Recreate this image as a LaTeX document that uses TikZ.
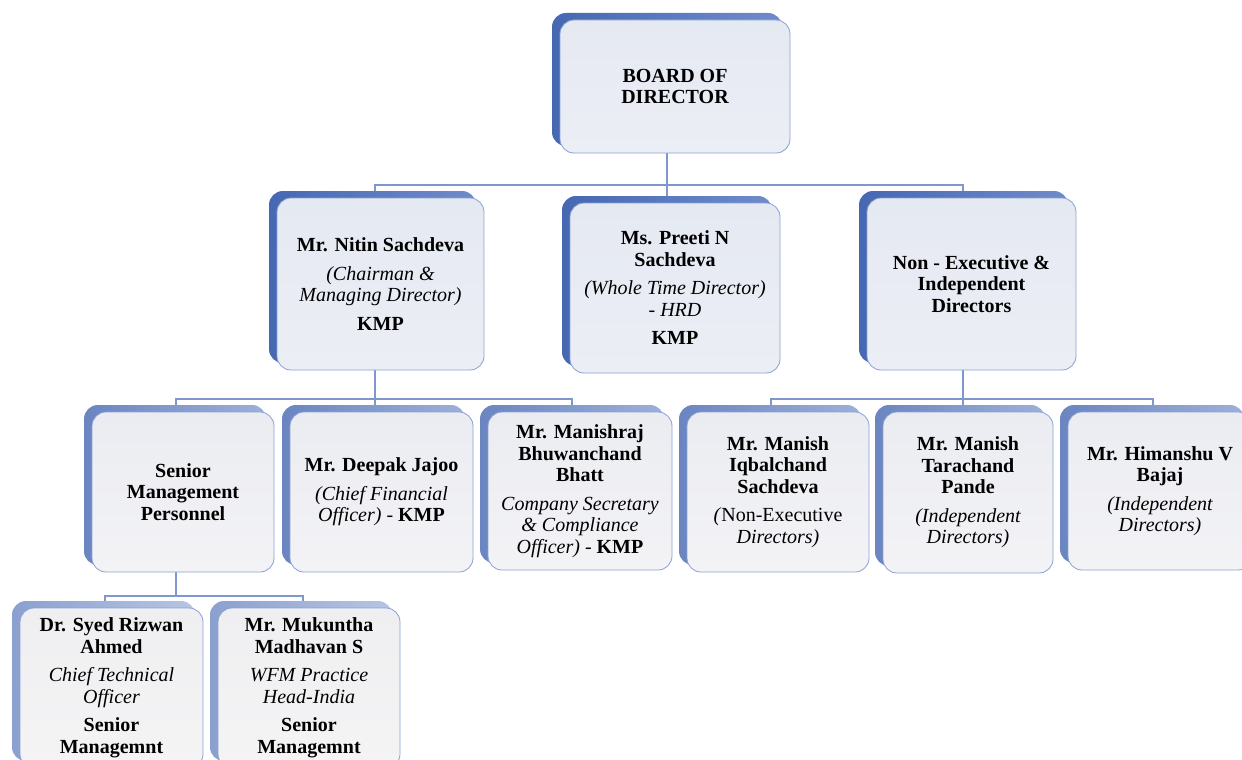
\documentclass[tikz,border=0pt]{standalone}
\usepackage{fontspec}
\setmainfont{Liberation Serif}
\usetikzlibrary{shadows,backgrounds}
\definecolor{edgeblue}{HTML}{8AA0D4}
\definecolor{lineblue}{HTML}{7F97CC}
\definecolor{hitop}{HTML}{E5E9F2}
\definecolor{hibot}{HTML}{ECEEF5}
\definecolor{midtop}{HTML}{EBECF1}
\definecolor{midbot}{HTML}{F3F3F6}
\definecolor{lotop}{HTML}{EFEFF1}
\definecolor{lobot}{HTML}{F4F4F5}
\definecolor{backdarkA}{HTML}{4668B2}
\definecolor{backlightA}{HTML}{6F8BCB}
\definecolor{backdarkB}{HTML}{6A85C0}
\definecolor{backlightB}{HTML}{9DB0DA}
\definecolor{backdarkC}{HTML}{8CA0CF}
\definecolor{backlightC}{HTML}{B7C5E3}
\pgfdeclarelayer{bgzero}
\pgfsetlayers{bgzero,background,main}
\tikzset{
  basebox/.style={draw=edgeblue, line width=0.8pt, rounded corners=14pt,
    inner sep=0pt, align=center, font=\rmfamily\fontsize{20}{21.5}\selectfont},
  hibox/.style={basebox, top color=hitop, bottom color=hibot,
    general shadow={shadow xshift=-8pt, shadow yshift=7pt, draw=none,
      left color=backdarkA, right color=backlightA}},
  midbox/.style={basebox, top color=midtop, bottom color=midbot,
    general shadow={shadow xshift=-8pt, shadow yshift=7pt, draw=none,
      left color=backdarkB, right color=backlightB}},
  lobox/.style={basebox, top color=lotop, bottom color=lobot,
    general shadow={shadow xshift=-8pt, shadow yshift=7pt, draw=none,
      left color=backdarkC, right color=backlightC}},
  conn/.style={draw=lineblue, line width=1.4pt},
}
\newcommand{\gp}{\\[7pt]}
\begin{document}
\begin{tikzpicture}[x=1pt,y=-1pt]
\begin{pgfonlayer}{bgzero}
\fill[white] (0,0) rectangle (1242,760);
\end{pgfonlayer}
\useasboundingbox (0,0) rectangle (1242,760);
\clip (0,0) rectangle (1242,760);

% level 1
\node[hibox, minimum width=230pt, minimum height=133pt] (bod) at (675,86.5)
  {\bfseries BOARD OF\\\bfseries DIRECTOR};

% level 2
\node[hibox, minimum width=207pt, minimum height=172pt] (nitin) at (380.5,284)
  {\bfseries Mr. Nitin Sachdeva\gp
   \itshape (Chairman \&\\\itshape Managing Director)\gp
   \bfseries KMP};
\node[hibox, minimum width=210pt, minimum height=170pt] (preeti) at (675,288)
  {\bfseries Ms. Preeti N\\\bfseries Sachdeva\gp
   \itshape (Whole Time Director)\\\itshape - HRD\gp
   \bfseries KMP};
\node[hibox, minimum width=209pt, minimum height=172pt] (nonexec) at (971.5,284)
  {\bfseries Non - Executive \&\\\bfseries Independent\\\bfseries Directors};

% level 3
\node[midbox, minimum width=182pt, minimum height=160pt] (senior) at (183,492)
  {\bfseries Senior\\\bfseries Management\\\bfseries Personnel};
\node[midbox, minimum width=183pt, minimum height=160pt] (deepak) at (381.5,492)
  {\bfseries Mr. Deepak Jajoo\gp
   \itshape (Chief Financial\\{\itshape Officer)} - \textbf{KMP}};
\node[midbox, minimum width=184pt, minimum height=158pt] (manishraj) at (580,491)
  {\bfseries Mr. Manishraj\\\bfseries Bhuwanchand\\\bfseries Bhatt\gp
   \itshape Company Secretary\\\itshape \& Compliance\\{\itshape Officer)} - \textbf{KMP}};
\node[midbox, minimum width=182pt, minimum height=160pt] (iqbal) at (778,492)
  {\bfseries Mr. Manish\\\bfseries Iqbalchand\\\bfseries Sachdeva\gp
   \textit{(}Non-Executive\\\itshape Directors)};
\node[midbox, minimum width=170pt, minimum height=161pt] (tarachand) at (968,492.5)
  {\bfseries Mr. Manish\\\bfseries Tarachand\\\bfseries Pande\gp
   \itshape (Independent\\\itshape Directors)};
\node[midbox, minimum width=184pt, minimum height=158pt] (himanshu) at (1160,491)
  {\bfseries Mr. Himanshu V\\\bfseries Bajaj\gp
   \itshape (Independent\\\itshape Directors)};

% level 4
\node[lobox, minimum width=183pt, minimum height=160pt] (syed) at (111.5,688)
  {\bfseries Dr. Syed Rizwan\\\bfseries Ahmed\gp
   \itshape Chief Technical\\\itshape Officer\gp
   \bfseries Senior\\\bfseries Managemnt};
\node[lobox, minimum width=182pt, minimum height=160pt] (mukuntha) at (309,688)
  {\bfseries Mr. Mukuntha\\\bfseries Madhavan S\gp
   \itshape WFM Practice\\\itshape Head-India\gp
   \bfseries Senior\\\bfseries Managemnt};

% connectors
\coordinate (busA) at (667,185);
\coordinate (busB) at (375,399);
\coordinate (busC) at (963,399);
\coordinate (busD) at (176,596);
\begin{pgfonlayer}{background}
\draw[conn] ([xshift=-8pt]bod.south) -- (busA);
\draw[conn] ([xshift=-5.5pt]nitin.north) |- (busA) -| ([xshift=-8.5pt]nonexec.north);
\draw[conn] (busA) -- ([xshift=-8pt]preeti.north);

\draw[conn] ([xshift=-5.5pt]nitin.south) -- (busB);
\draw[conn] ([xshift=-7pt]senior.north) |- (busB) -| ([xshift=-8pt]manishraj.north);
\draw[conn] (busB) -- ([xshift=-6.5pt]deepak.north);

\draw[conn] ([xshift=-8.5pt]nonexec.south) -- (busC);
\draw[conn] ([xshift=-7pt]iqbal.north) |- (busC) -| ([xshift=-7pt]himanshu.north);
\draw[conn] (busC) |- ([xshift=-7pt]tarachand.north);

\draw[conn] ([xshift=-7pt]senior.south) -- (busD);
\draw[conn] ([xshift=-6.5pt]syed.north) |- (busD) -| ([xshift=-6pt]mukuntha.north);
\end{pgfonlayer}
\end{tikzpicture}
\end{document}
